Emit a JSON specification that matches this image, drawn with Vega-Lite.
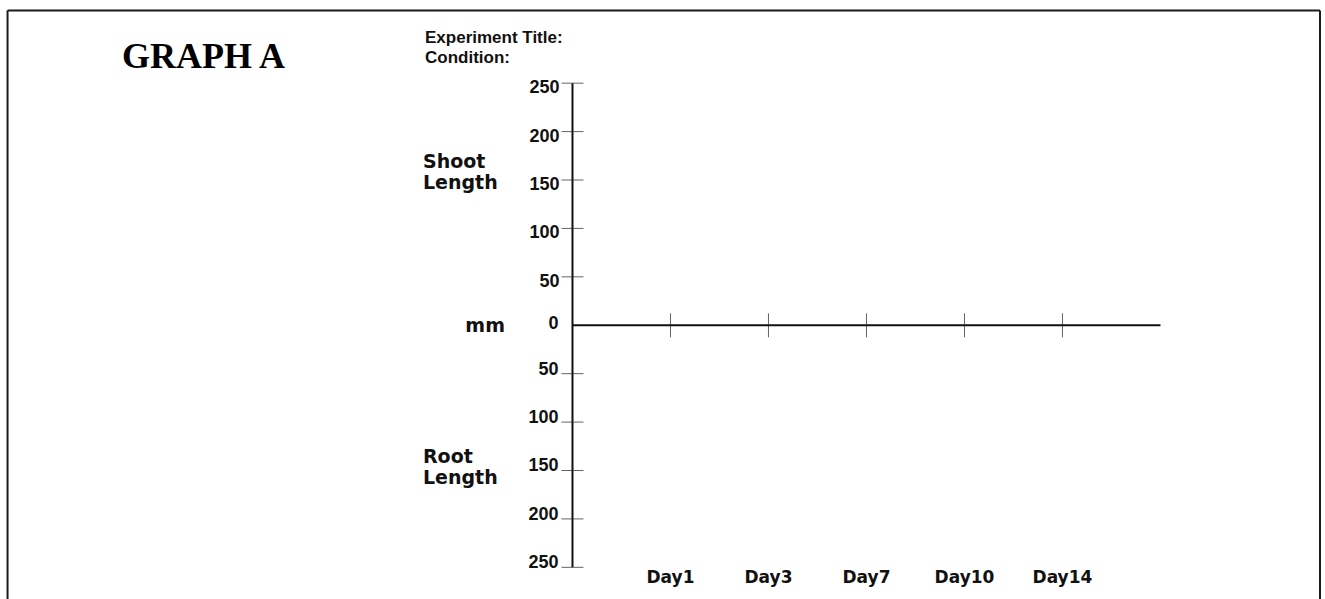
{
  "$schema": "https://vega.github.io/schema/vega-lite/v6.json",
  "width": 1325,
  "height": 599,
  "autosize": {"type": "none"},
  "padding": 0,
  "background": "white",
  "config": {
    "view": {"stroke": null}
  },
  "datasets": {
    "frame": [
      {"x": -5.765, "y": 325.05, "x2": -5.765, "y2": -300},
      {"x": -5.765, "y": 325.05, "x2": 7.628, "y2": 325.05},
      {"x": 7.628, "y": 325.05, "x2": 7.628, "y2": -300}
    ],
    "axes": [
      {"x": 0, "y": -250, "x2": 0, "y2": 250},
      {"x": 0, "y": 0, "x2": 6, "y2": 0}
    ],
    "yticks": [
      {"value": 250, "label": "250"}, {"value": 200, "label": "200"}, {"value": 150, "label": "150"}, {"value": 100, "label": "100"}, {"value": 50, "label": "50"},
      {"value": 0, "label": "0"},
      {"value": -50, "label": "50"}, {"value": -100, "label": "100"}, {"value": -150, "label": "150"}, {"value": -200, "label": "200"}, {"value": -250, "label": "250"}
    ],
    "days": [
      {"k": 1, "day": "Day1"}, {"k": 2, "day": "Day3"}, {"k": 3, "day": "Day7"}, {"k": 4, "day": "Day10"}, {"k": 5, "day": "Day14"}
    ],
    "notes": [
      {"text": "GRAPH A", "x": -3.765, "y": 265.66, "role": "title"},
      {"text": "Experiment Title:", "x": -1.505, "y": 291.48, "role": "header"},
      {"text": "Condition:", "x": -1.505, "y": 270.82, "role": "header"},
      {"text": "Shoot", "x": -1.526, "y": 162.39, "role": "side"},
      {"text": "Length", "x": -1.526, "y": 140.7, "role": "side"},
      {"text": "Root", "x": -1.526, "y": -142.27, "role": "side"},
      {"text": "Length", "x": -1.526, "y": -163.96, "role": "side"},
      {"text": "mm", "x": -0.689, "y": -6.96, "role": "unit"}
    ]
  },
  "layer": [
    {
      "data": {"name": "frame"},
      "mark": {"type": "rule", "color": "#1a1a1a", "strokeWidth": 2},
      "encoding": {
        "x": {"field": "x", "type": "quantitative", "scale": {"domain": [-5.842, 7.679], "nice": false, "zero": false}, "axis": null},
        "y": {"field": "y", "type": "quantitative", "scale": {"domain": [-282.72, 335.89], "nice": false, "zero": false}, "axis": null},
        "x2": {"field": "x2"},
        "y2": {"field": "y2"}
      }
    },
    {
      "data": {"name": "axes"},
      "mark": {"type": "rule", "color": "#111", "strokeWidth": 2},
      "encoding": {
        "x": {"field": "x", "type": "quantitative", "scale": {"domain": [-5.842, 7.679], "nice": false, "zero": false}, "axis": null},
        "y": {"field": "y", "type": "quantitative", "scale": {"domain": [-282.72, 335.89], "nice": false, "zero": false}, "axis": null},
        "x2": {"field": "x2"},
        "y2": {"field": "y2"}
      }
    },
    {
      "data": {"name": "yticks"},
      "transform": [{"filter": "datum.value !== 0"}],
      "mark": {"type": "tick", "orient": "horizontal", "size": 22, "thickness": 1, "color": "#222"},
      "encoding": {
        "x": {"datum": 0, "type": "quantitative", "scale": {"domain": [-5.842, 7.679], "nice": false, "zero": false}, "axis": null},
        "y": {"field": "value", "type": "quantitative", "scale": {"domain": [-282.72, 335.89], "nice": false, "zero": false}, "axis": null}
      }
    },
    {
      "data": {"name": "yticks"},
      "transform": [{"filter": "datum.value > 0"}],
      "mark": {"type": "text", "font": "Liberation Sans", "fontWeight": "bold", "fontSize": 18, "align": "right", "baseline": "middle", "dx": -13, "dy": 5, "color": "#111"},
      "encoding": {
        "x": {"datum": 0, "type": "quantitative", "scale": {"domain": [-5.842, 7.679], "nice": false, "zero": false}, "axis": null},
        "y": {"field": "value", "type": "quantitative", "scale": {"domain": [-282.72, 335.89], "nice": false, "zero": false}, "axis": null},
        "text": {"field": "label"}
      }
    },
    {
      "data": {"name": "yticks"},
      "transform": [{"filter": "datum.value === 0"}],
      "mark": {"type": "text", "font": "Liberation Sans", "fontWeight": "bold", "fontSize": 18, "align": "right", "baseline": "middle", "dx": -14, "dy": -1, "color": "#111"},
      "encoding": {
        "x": {"datum": 0, "type": "quantitative", "scale": {"domain": [-5.842, 7.679], "nice": false, "zero": false}, "axis": null},
        "y": {"field": "value", "type": "quantitative", "scale": {"domain": [-282.72, 335.89], "nice": false, "zero": false}, "axis": null},
        "text": {"field": "label"}
      }
    },
    {
      "data": {"name": "yticks"},
      "transform": [{"filter": "datum.value < 0"}],
      "mark": {"type": "text", "font": "Liberation Sans", "fontWeight": "bold", "fontSize": 18, "align": "right", "baseline": "middle", "dx": -14, "dy": -4, "color": "#111"},
      "encoding": {
        "x": {"datum": 0, "type": "quantitative", "scale": {"domain": [-5.842, 7.679], "nice": false, "zero": false}, "axis": null},
        "y": {"field": "value", "type": "quantitative", "scale": {"domain": [-282.72, 335.89], "nice": false, "zero": false}, "axis": null},
        "text": {"field": "label"}
      }
    },
    {
      "data": {"name": "days"},
      "mark": {"type": "tick", "orient": "vertical", "size": 24, "thickness": 1, "color": "#222"},
      "encoding": {
        "x": {"field": "k", "type": "quantitative", "scale": {"domain": [-5.842, 7.679], "nice": false, "zero": false}, "axis": null},
        "y": {"datum": 0, "type": "quantitative", "scale": {"domain": [-282.72, 335.89], "nice": false, "zero": false}, "axis": null}
      }
    },
    {
      "data": {"name": "days"},
      "mark": {"type": "text", "font": "DejaVu Sans", "fontWeight": "bold", "fontSize": 17, "align": "center", "baseline": "alphabetic", "dy": 16, "color": "#111"},
      "encoding": {
        "x": {"field": "k", "type": "quantitative", "scale": {"domain": [-5.842, 7.679], "nice": false, "zero": false}, "axis": null},
        "y": {"datum": -250, "type": "quantitative", "scale": {"domain": [-282.72, 335.89], "nice": false, "zero": false}, "axis": null},
        "text": {"field": "day"}
      }
    },
    {
      "data": {"name": "notes"},
      "transform": [{"filter": "datum.role === 'title'"}],
      "mark": {"type": "text", "font": "Liberation Serif", "fontWeight": "bold", "fontSize": 36, "align": "center", "baseline": "alphabetic", "color": "#000"},
      "encoding": {
        "x": {"field": "x", "type": "quantitative", "scale": {"domain": [-5.842, 7.679], "nice": false, "zero": false}, "axis": null},
        "y": {"field": "y", "type": "quantitative", "scale": {"domain": [-282.72, 335.89], "nice": false, "zero": false}, "axis": null},
        "text": {"field": "text"}
      }
    },
    {
      "data": {"name": "notes"},
      "transform": [{"filter": "datum.role === 'header'"}],
      "mark": {"type": "text", "font": "Liberation Sans", "fontWeight": "bold", "fontSize": 17, "align": "left", "baseline": "alphabetic", "color": "#111"},
      "encoding": {
        "x": {"field": "x", "type": "quantitative", "scale": {"domain": [-5.842, 7.679], "nice": false, "zero": false}, "axis": null},
        "y": {"field": "y", "type": "quantitative", "scale": {"domain": [-282.72, 335.89], "nice": false, "zero": false}, "axis": null},
        "text": {"field": "text"}
      }
    },
    {
      "data": {"name": "notes"},
      "transform": [{"filter": "datum.role === 'side'"}],
      "mark": {"type": "text", "font": "DejaVu Sans", "fontWeight": "bold", "fontSize": 19, "align": "left", "baseline": "alphabetic", "color": "#111"},
      "encoding": {
        "x": {"field": "x", "type": "quantitative", "scale": {"domain": [-5.842, 7.679], "nice": false, "zero": false}, "axis": null},
        "y": {"field": "y", "type": "quantitative", "scale": {"domain": [-282.72, 335.89], "nice": false, "zero": false}, "axis": null},
        "text": {"field": "text"}
      }
    },
    {
      "data": {"name": "notes"},
      "transform": [{"filter": "datum.role === 'unit'"}],
      "mark": {"type": "text", "font": "DejaVu Sans", "fontWeight": "bold", "fontSize": 19, "align": "right", "baseline": "alphabetic", "color": "#111"},
      "encoding": {
        "x": {"field": "x", "type": "quantitative", "scale": {"domain": [-5.842, 7.679], "nice": false, "zero": false}, "axis": null},
        "y": {"field": "y", "type": "quantitative", "scale": {"domain": [-282.72, 335.89], "nice": false, "zero": false}, "axis": null},
        "text": {"field": "text"}
      }
    }
  ]
}
